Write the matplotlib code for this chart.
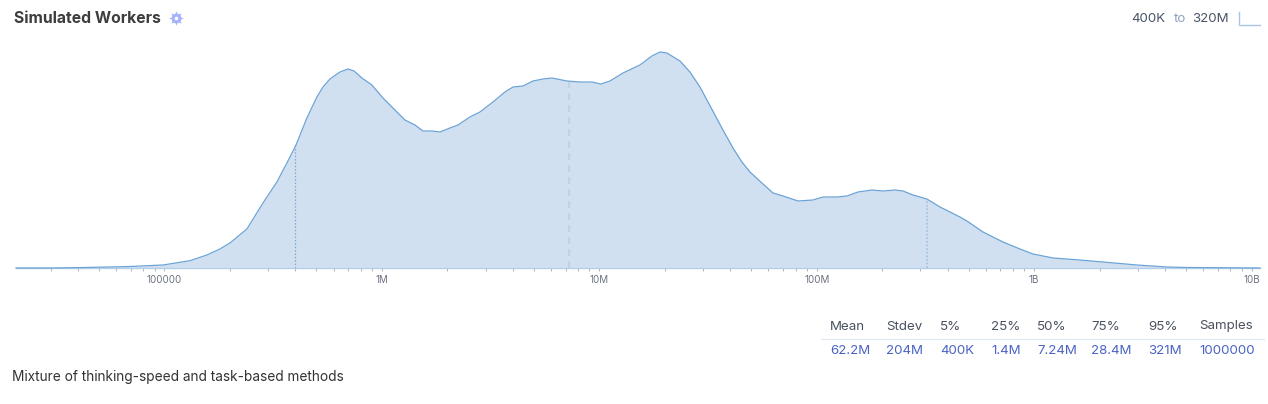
import numpy as np
import matplotlib
matplotlib.use("Agg")
import matplotlib.pyplot as plt
from matplotlib.lines import Line2D
from matplotlib.ticker import FixedLocator, NullFormatter

log_values = [4.317, 4.473, 4.611, 4.749, 4.841, 4.993, 5.117, 5.195, 5.255, 5.301, 5.379, 5.453,
              5.517, 5.563, 5.605, 5.655, 5.701, 5.729, 5.761, 5.807, 5.844, 5.872, 5.908, 5.954,
              6.005, 6.060, 6.106, 6.152, 6.189, 6.230, 6.267, 6.313, 6.350, 6.405, 6.451, 6.511,
              6.566, 6.603, 6.649, 6.695, 6.741, 6.782, 6.851, 6.911, 6.966, 7.008, 7.049, 7.109,
              7.187, 7.242, 7.279, 7.311, 7.371, 7.417, 7.463, 7.495, 7.532, 7.569, 7.615, 7.656,
              7.693, 7.753, 7.799, 7.845, 7.914, 7.983, 8.029, 8.093, 8.139, 8.190, 8.254, 8.305,
              8.360, 8.397, 8.443, 8.507, 8.567, 8.659, 8.691, 8.765, 8.857, 8.935, 8.995, 9.087,
              9.211, 9.317, 9.473, 9.611, 9.703, 10.039]
density = [0, 0, 0.4, 1, 1.5, 3, 7.3, 13, 19, 25, 39, 65,
           86, 105, 123, 150, 171, 181, 189, 196, 199, 197, 190, 183,
           170, 158, 148, 143, 137, 137, 136, 140, 143, 151, 156, 166,
           176, 181, 182, 187, 189, 190, 187, 186, 186, 184, 187, 195,
           203, 212, 216, 215, 207, 196, 181, 168, 153, 138, 120, 106,
           96, 84, 75, 72, 67, 68, 71, 71, 72, 76, 78, 77,
           78, 77, 73, 69, 61, 51, 47, 36, 26, 19, 14, 10,
           8, 6, 3, 1, 0.5, 0]
percentile_values = [400e3, 7.24e6, 321e6]
percentile_heights = [123, 186, 69]
major_ticks = [1e5, 1e6, 1e7, 1e8, 1e9, 1e10]
major_labels = ["100000", "1M", "10M", "100M", "1B", "10B"]
table_headers = ["Mean", "Stdev", "5%", "25%", "50%", "75%", "95%", "Samples"]
table_values = ["62.2M", "204M", "400K", "1.4M", "7.24M", "28.4M", "321M", "1000000"]

W, H = 1268, 404
FONT = "Inter"
fig = plt.figure(figsize=(W / 100, H / 100), dpi=100)
plt.rcParams["font.family"] = [FONT, "DejaVu Sans"]


def fx(x):
    return x / W


def fy(y):
    return 1 - y / H


# Decade spacing of the reference axis: 1e5 at 164.5 px, 217.4 px per decade
ax_left, ax_right, ax_top, ax_bottom = 16, 1260, 40, 268
ax = fig.add_axes([fx(ax_left), fy(ax_bottom), (ax_right - ax_left) / W, (ax_bottom - ax_top) / H])
ax.set_xscale("log")
ax.set_xlim(10 ** (5 + (ax_left - 164.5) / 217.4), 10 ** (5 + (ax_right - 164.5) / 217.4))
ax.set_ylim(0, ax_bottom - ax_top)

x_values = 10 ** np.array(log_values)
LINE = "#6ba3d6"
FILL = "#d1e0f0"
ax.fill_between(x_values, density, 0, color=FILL, lw=0, zorder=1)
ax.plot(x_values, density, color=LINE, lw=0.9, zorder=3, clip_on=False)
ax.plot(x_values, [0] * len(x_values), color="#b5cfe8", lw=1.0, zorder=2, clip_on=False)

ax.vlines(percentile_values[0], 0, percentile_heights[0], color="#7fa8d0", lw=0.9, linestyles=(0, (1.2, 1.5)), zorder=2)
ax.vlines(percentile_values[1], 0, percentile_heights[1], color="#bfd2e6", lw=1.6, linestyles=(0, (3.2, 2.2)), zorder=2)
ax.vlines(percentile_values[2], 0, percentile_heights[2], color="#a8c4e2", lw=1.3, linestyles=(0, (1, 1)), zorder=2)

for s in ax.spines.values():
    s.set_visible(False)
ax.yaxis.set_visible(False)
ax.patch.set_alpha(0)
ax.xaxis.set_major_locator(FixedLocator(major_ticks))
ax.set_xticklabels(major_labels)
minor = [m * 10 ** e for e in range(4, 11) for m in range(2, 10)]
ax.xaxis.set_minor_locator(FixedLocator(minor))
ax.xaxis.set_minor_formatter(NullFormatter())
ax.tick_params(axis="x", which="both", length=2.2, width=0.7, color="#b0b4bc", pad=2.8,
               labelsize=7.0, labelcolor="#6b7280")

# Header
fig.text(fx(14), fy(18.5), "Simulated Workers", fontsize=11.3, fontweight="bold", color="#3d3d3d", va="center", ha="left", family=FONT)
GEAR = "#a3b4fb"
fig.add_artist(Line2D([fx(176)], [fy(18)], marker=(8, 1, 0), markersize=10.5, color=GEAR, mew=0, transform=fig.transFigure))
fig.add_artist(Line2D([fx(176)], [fy(18)], marker="o", markersize=7, color=GEAR, mew=0, transform=fig.transFigure))
fig.add_artist(Line2D([fx(176)], [fy(18)], marker="o", markersize=2.6, color="white", mew=0, transform=fig.transFigure))

TS = 9.6
fig.text(fx(1131), fy(18.5), "400K", fontsize=TS, color="#4a5568", va="center", ha="left", family=FONT)
fig.text(fx(1174), fy(18.5), "to", fontsize=TS, color="#8fa3bf", va="center", ha="left", family=FONT)
fig.text(fx(1192), fy(18.5), "320M", fontsize=TS, color="#4a5568", va="center", ha="left", family=FONT)
fig.add_artist(Line2D([fx(1239), fx(1239), fx(1260)], [fy(12), fy(24.5), fy(24.5)], color="#a9c6e6", lw=1.0, transform=fig.transFigure))

# Summary table
col_x = [830, 886, 940, 991, 1037, 1091, 1148, 1199]
for x, head, val in zip(col_x, table_headers, table_values):
    fig.text(fx(x), fy(326.5), head, fontsize=TS, color="#4a5260", va="center", ha="left", family=FONT)
    fig.text(fx(x), fy(351.5), val, fontsize=TS, color="#4a63c4", va="center", ha="left", family=FONT)
fig.add_artist(Line2D([fx(821), fx(1264)], [fy(338.5), fy(338.5)], color="#e2e8f0", lw=0.9, transform=fig.transFigure))

fig.text(fx(12), fy(377.5), "Mixture of thinking-speed and task-based methods", fontsize=9.85, color="#333333", va="center", ha="left", family=FONT)

fig.savefig("out.png", dpi=100)
